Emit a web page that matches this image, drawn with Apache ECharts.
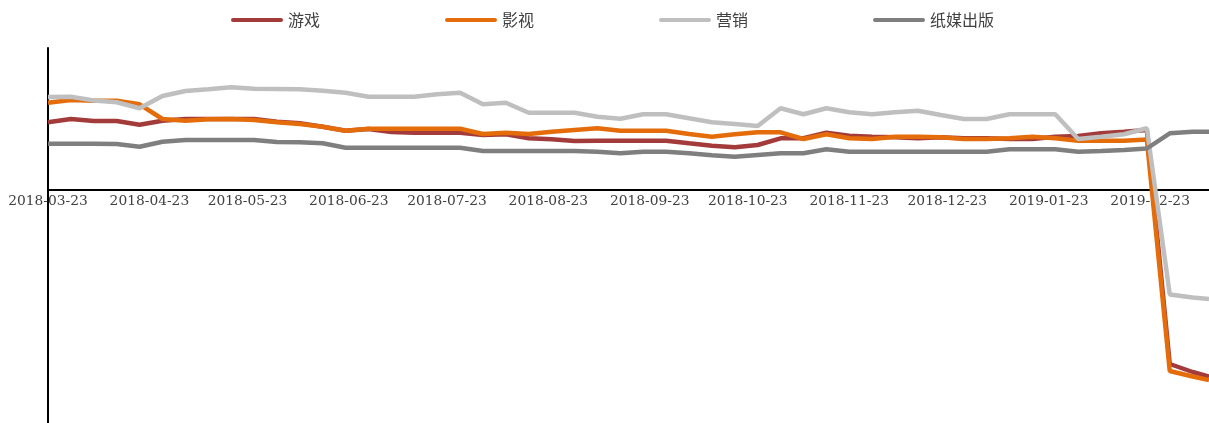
<!DOCTYPE html>
<html>
<head>
<meta charset="utf-8">
<script src="https://cdn.jsdelivr.net/npm/echarts@6/dist/echarts.min.js"></script>
<style>html,body{margin:0;padding:0;background:#fff}#c{width:1209px;height:423px}</style>
</head>
<body>
<div id="c"></div>
<script>
// Weekly observation dates
const dates = ['2018-03-23','2018-03-30','2018-04-06','2018-04-13','2018-04-20','2018-04-27','2018-05-04','2018-05-11','2018-05-18','2018-05-25',
  '2018-06-01','2018-06-08','2018-06-15','2018-06-22','2018-06-29','2018-07-06','2018-07-13','2018-07-20','2018-07-27','2018-08-03',
  '2018-08-10','2018-08-17','2018-08-24','2018-08-31','2018-09-07','2018-09-14','2018-09-21','2018-09-28','2018-10-05','2018-10-12',
  '2018-10-19','2018-10-26','2018-11-02','2018-11-09','2018-11-16','2018-11-23','2018-11-30','2018-12-07','2018-12-14','2018-12-21',
  '2018-12-28','2019-01-04','2019-01-11','2019-01-18','2019-01-25','2019-02-01','2019-02-08','2019-02-15','2019-02-22','2019-03-01',
  '2019-03-08','2019-03-13'];
const seriesNames = ['游戏','影视','营销','纸媒出版'];
const game = [67.7,71,69,69,65.3,69.3,71,71,71,71,68.3,66.7,63.3,59.3,61,58,57.3,57.3,57.3,55,55.7,51.7,50.7,49,49.3,49.3,49.3,49.3,46.7,44.3,42.7,45,51.7,51.7,57.3,54.3,53.3,52.7,51.7,52.7,51.7,51.7,51,51,53.3,54,56.7,58.3,60,-174,-182,-186.7];
const film = [87.3,90,89.3,89.3,85.7,71,69.3,70.7,71,70,67.7,66,63.3,59.3,61.3,61.3,61.3,61.3,61.3,56,57.3,56,58.3,60,61.7,59.3,59.3,59.3,56,53.3,55.7,57.7,57.7,51,55.7,51.7,51,53.3,53.3,52.7,51,51,51.7,53.3,51.7,49.3,49.3,49.3,50.5,-181,-186.5,-190];
const marketing = [93,93.3,89.5,87.7,81.7,94,99,100.7,102.7,101.3,101,100.7,99.3,97.3,93.3,93.3,93.3,95.7,97.3,85.7,87.3,77.3,77.3,77.3,73.3,71.3,75.7,75.7,71.7,67.7,66,64,81.7,75.7,81.7,77.7,75.7,77.7,79.3,75,71,71,75.7,75.7,75.7,51,53.3,55.7,61.7,-104.5,-107.5,-109];
const print = [46.3,46.3,46.3,46,43.3,48.3,50,50,50,50,48,47.7,46.7,42.3,42.3,42.3,42.3,42.3,42.3,39,39,39,39,39,38.3,36.7,38.3,38.3,36.7,34.7,33.3,35,36.7,36.7,40.7,38.3,38.3,38.3,38.3,38.3,38.3,38.3,40.7,40.7,40.7,38.3,39,40,41.5,56.7,58.3,58.3];
const colors = ['#A33B3B','#E46C0A','#BFBFBF','#7F7F7F'];

// daily category axis spanning the observation window
const days = [];
(function(){
  const p = s => { const a = s.split('-').map(Number); return Date.UTC(a[0], a[1]-1, a[2]); };
  const start = p(dates[0]), end = p(dates[dates.length-1]);
  for (let t = start; t <= end; t += 86400000) days.push(new Date(t).toISOString().slice(0,10));
})();

const values = [game, film, marketing, print];
const chart = echarts.init(document.getElementById('c'), null, {renderer:'canvas'});
chart.setOption({
  animation: false,
  color: colors,
  legend: {
    data: seriesNames,
    left: 226, top: 7,
    itemWidth: 52, itemHeight: 4, itemGap: 125,
    icon: 'path://M2,0H50A2,2,0,0,1,50,4H2A2,2,0,0,1,2,0Z',
    textStyle: {fontFamily: '"Noto Sans CJK SC", sans-serif', fontSize: 16, color: '#404040'}
  },
  grid: [
    {left: 48, right: 0, top: 48, bottom: 0, containLabel: false, outerBoundsMode: 'none'},
    {left: 48, right: 0, top: 48, bottom: 233, containLabel: false, outerBoundsMode: 'none'}
  ],
  xAxis: [{
    gridIndex: 0, type: 'category', data: days, boundaryGap: false, show: false
  }, {
    gridIndex: 1, type: 'category', data: days, boundaryGap: false,
    axisLine: {onZero: false, lineStyle: {color: '#000', width: 2}},
    axisTick: {show: false},
    axisLabel: {
      interval: (i, v) => v.slice(8) === '23',
      margin: 4, color: '#404040',
      fontFamily: '"DejaVu Serif", serif', fontSize: 13.8
    },
    splitLine: {show: false}
  }],
  yAxis: [{
    gridIndex: 0, type: 'value', min: -233, max: 142,
    axisLine: {show: true, lineStyle: {color: '#000', width: 2}},
    axisTick: {show: false}, axisLabel: {show: false}, splitLine: {show: false}
  }, {
    gridIndex: 1, type: 'value', min: 0, max: 142, show: false
  }],
  series: seriesNames.map((n, k) => ({
    name: n, type: 'line', symbol: 'none', smooth: false,
    xAxisIndex: 0, yAxisIndex: 0,
    lineStyle: {width: 4.5, color: colors[k]},
    itemStyle: {color: colors[k]},
    data: dates.map((d, i) => [d, values[k][i]])
  }))
});
</script>
</body>
</html>
